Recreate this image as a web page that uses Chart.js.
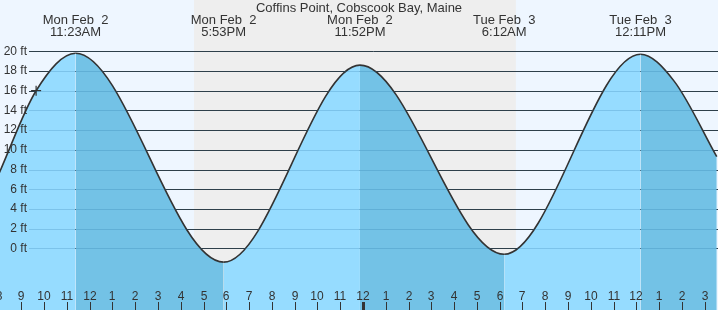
<!DOCTYPE html>
<html>
<head>
<meta charset="utf-8">
<title>Coffins Point tide chart</title>
<script src="https://cdn.jsdelivr.net/npm/chart.js@4.4.1/dist/chart.umd.min.js"></script>
<style>
    html, body { margin: 0; padding: 0; background: #fff; }
    canvas { display: block; }
</style>
</head>
<body>
<canvas id="tideChart" width="718" height="310"></canvas>
<script>
// hours counted from midnight Mon Feb 2, heights in feet
const tideHours = [8.02, 9.65, 11.383, 17.883, 23.867, 30.2, 36.183, 37.65, 39.53];
const tideFeet = [7.6, 16.0, 19.8, -1.4, 18.6, -0.6, 19.7, 17.0, 9.3];

const nowHour = 9.65;
const nowFeet = 16.0;

const eventHours = [11.383, 17.883, 23.867, 30.2, 36.183];
const eventDays = ['Mon Feb  2', 'Mon Feb  2', 'Mon Feb  2', 'Tue Feb  3', 'Tue Feb  3'];
const eventTimes = ['11:23AM', '5:53PM', '11:52PM', '6:12AM', '12:11PM'];

const sunsetHour = 16.58;
const sunriseHour = 30.71;

const hourTicks = [8, 9, 10, 11, 12, 13, 14, 15, 16, 17, 18, 19, 20, 21, 22, 23, 24,
    25, 26, 27, 28, 29, 30, 31, 32, 33, 34, 35, 36, 37, 38, 39, 40];
const hourLabels = ['8', '9', '10', '11', '12', '1', '2', '3', '4', '5', '6', '7', '8', '9', '10', '11', '12',
    '1', '2', '3', '4', '5', '6', '7', '8', '9', '10', '11', '12', '1', '2', '3', '4'];

const feetTicks = [0, 2, 4, 6, 8, 10, 12, 14, 16, 18, 20];
const feetLabels = ['0 ft', '2 ft', '4 ft', '6 ft', '8 ft', '10 ft', '12 ft', '14 ft', '16 ft', '18 ft', '20 ft'];

const chartTitle = 'Coffins Point, Cobscook Bay, Maine';

const DAY_BG = '#eef6ff';
const NIGHT_BG = '#eeeeee';
const RISING = '#96dcff';
const FALLING = '#73c2e6';
const INK = '#333333';
const FONT = '"Liberation Sans", Arial, sans-serif';

const tidePlugin = {
    id: 'tideDecor',
    beforeDatasetsDraw(chart) {
        const ctx = chart.ctx;
        const x = chart.scales.x;
        const y = chart.scales.y;
        const area = chart.chartArea;
        ctx.save();
        ctx.fillStyle = DAY_BG;
        ctx.fillRect(area.left, area.top, area.right - area.left, area.bottom - area.top);
        const n0 = x.getPixelForValue(sunsetHour);
        const n1 = x.getPixelForValue(sunriseHour);
        ctx.fillStyle = NIGHT_BG;
        ctx.fillRect(n0, area.top, n1 - n0, area.bottom - area.top);

        // dark grid lines (visible above the water)
        ctx.strokeStyle = INK;
        ctx.lineWidth = 1;
        feetTicks.forEach(v => {
            const py = Math.round(y.getPixelForValue(v)) + 0.5;
            ctx.beginPath();
            ctx.moveTo(29, py);
            ctx.lineTo(area.right, py);
            ctx.stroke();
        });
        ctx.restore();
    },
    afterDatasetsDraw(chart) {
        const ctx = chart.ctx;
        const x = chart.scales.x;
        const y = chart.scales.y;
        const area = chart.chartArea;
        ctx.save();

        // faint grid lines over the water
        ctx.strokeStyle = 'rgba(30, 110, 160, 0.22)';
        ctx.lineWidth = 1;
        feetTicks.forEach(v => {
            const py = Math.round(y.getPixelForValue(v)) + 0.5;
            ctx.beginPath();
            ctx.moveTo(29, py);
            ctx.lineTo(area.right, py);
            ctx.stroke();
        });

        ctx.fillStyle = INK;

        // y labels
        ctx.font = '12px ' + FONT;
        ctx.textAlign = 'right';
        ctx.textBaseline = 'middle';
        feetTicks.forEach((v, i) => {
            ctx.fillText(feetLabels[i], 27, y.getPixelForValue(v));
        });

        // hour labels and ticks
        ctx.textAlign = 'center';
        ctx.textBaseline = 'alphabetic';
        hourTicks.forEach((h, i) => {
            const px = Math.round(x.getPixelForValue(h));
            ctx.fillText(hourLabels[i], px, 299.5);
            ctx.fillRect(px - (h === 24 ? 1 : 0), 302, h === 24 ? 3 : 1, 8);
        });

        // title and tide events
        ctx.font = '13px ' + FONT;
        ctx.fillText(chartTitle, 359, 12);
        eventHours.forEach((h, i) => {
            const px = x.getPixelForValue(h);
            ctx.fillText(eventDays[i], px, 24);
            ctx.fillText(eventTimes[i], px, 36);
        });
        ctx.restore();
    }
};

const ctx = document.getElementById('tideChart').getContext('2d');
const chart = new Chart(ctx, {
    type: 'line',
    data: {
        datasets: [{
            label: 'now',
            type: 'scatter',
            data: [{ x: nowHour, y: nowFeet }],
            pointStyle: 'cross',
            pointRadius: 5,
            borderColor: INK,
            borderWidth: 1.2,
            order: 0
        }, {
            label: 'Tide',
            data: tideHours.map((h, i) => ({ x: h, y: tideFeet[i] })),
            borderColor: INK,
            borderWidth: 1.6,
            backgroundColor: RISING,
            fill: 'start',
            pointRadius: 0,
            cubicInterpolationMode: 'monotone',
            segment: {
                backgroundColor: c => c.p1.parsed.y < c.p0.parsed.y ? FALLING : RISING
            },
            order: 1
        }]
    },
    options: {
        responsive: false,
        animation: false,
        devicePixelRatio: 1,
        layout: { padding: 0, autoPadding: false },
        plugins: {
            legend: { display: false },
            tooltip: { enabled: false },
            title: { display: false }
        },
        scales: {
            x: { type: 'linear', min: 8.065, max: 39.585, display: false },
            y: { type: 'linear', min: -6.26, max: 25.21, display: false }
        }
    },
    plugins: [tidePlugin]
});
</script>
</body>
</html>
